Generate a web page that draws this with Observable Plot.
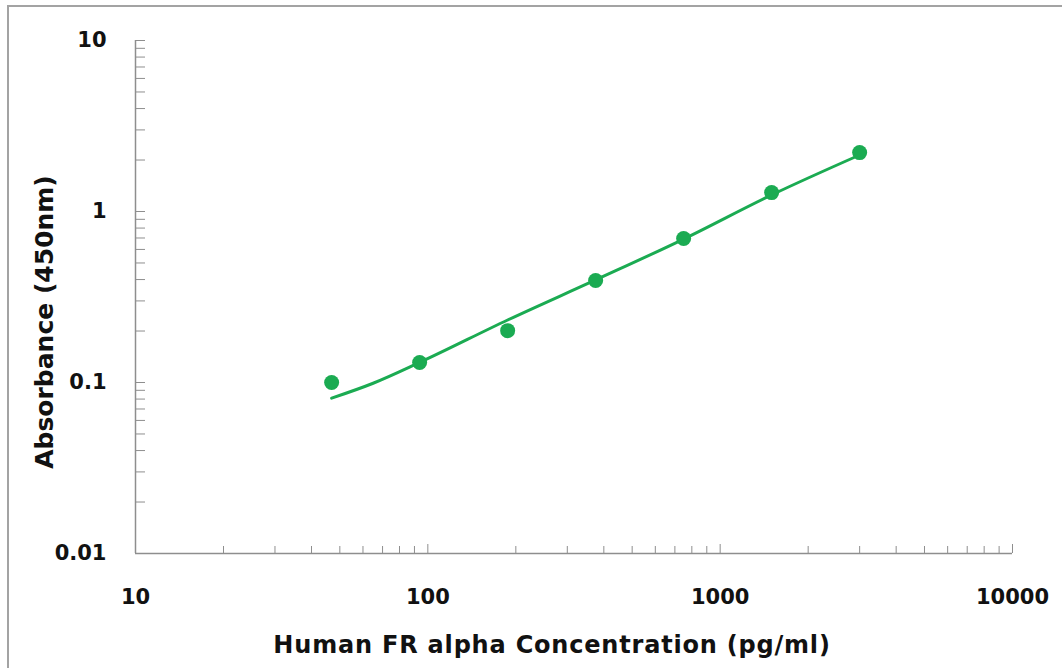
<!DOCTYPE html>
<html><head><meta charset="utf-8">
<script src="https://cdn.jsdelivr.net/npm/d3@7"></script>
<script src="https://cdn.jsdelivr.net/npm/@observablehq/plot@0.6"></script>
<style>
html,body{margin:0;padding:0;background:#fff;}
#wrap{position:relative;width:1062px;height:668px;overflow:hidden;}
#border{position:absolute;left:7px;top:5px;width:1100px;height:700px;border-left:2px solid #a3a3a3;border-top:2px solid #a3a3a3;pointer-events:none;}
</style></head><body>
<div id="wrap"><div id="chart"></div><div id="border"></div></div>
<script>
// Standards (measured points)
const concentration = [46.875, 93.75, 187.5, 375, 750, 1500, 3000];
const absorbance = [0.100, 0.131, 0.201, 0.395, 0.695, 1.29, 2.21];
// Fitted curve
const fitConcentration = [46.875, 65, 93.75, 187.5, 375, 750, 1500, 3000];
const fitAbsorbance = [0.081, 0.099, 0.131, 0.232, 0.398, 0.69, 1.25, 2.14];
// Axes
const xMajorTicks = [10, 100, 1000, 10000];
const xTickLabels = ["10", "100", "1000", "10000"];
const xMinorTicks = [20, 30, 40, 50, 60, 70, 80, 90, 200, 300, 400, 500, 600, 700, 800, 900, 2000, 3000, 4000, 5000, 6000, 7000, 8000, 9000];
const yMajorTicks = [0.01, 0.1, 1, 10];
const yTickLabels = ["0.01", "0.1", "1", "10"];
const yMinorTicks = [0.02, 0.03, 0.04, 0.05, 0.06, 0.07, 0.08, 0.09, 0.2, 0.3, 0.4, 0.5, 0.6, 0.7, 0.8, 0.9, 2, 3, 4, 5, 6, 7, 8, 9];
const xTitle = "Human FR alpha Concentration (pg/ml)";
const yTitle = "Absorbance (450nm)";

const points = concentration.map((c, i) => ({c, a: absorbance[i]}));
const fit = fitConcentration.map((c, i) => ({c, a: fitAbsorbance[i]}));

const green = "#1bab52";
const axisGray = "#8e8e8e";
const font = "DejaVu Sans";

const chart = Plot.plot({
  width: 1062,
  height: 668,
  marginLeft: 135,
  marginRight: 50,
  marginTop: 40,
  marginBottom: 115,
  style: {background: "#fff", fontFamily: font},
  x: {type: "log", domain: [10, 10000], axis: null},
  y: {type: "log", domain: [0.01, 10], axis: null},
  marks: [
    // axis lines
    Plot.ruleX([10], {stroke: axisGray, strokeWidth: 1.5}),
    Plot.ruleY([0.01], {stroke: axisGray, strokeWidth: 1.5}),
    // inward ticks
    Plot.axisX({ticks: xMinorTicks, tickSize: 7, dy: -7, text: null, label: null, stroke: axisGray}),
    Plot.axisX({ticks: xMajorTicks.slice(1), tickSize: 9, dy: -9, text: null, label: null, stroke: axisGray}),
    Plot.axisY({ticks: yMinorTicks.concat(yMajorTicks.slice(1)), tickSize: 10, dx: 10, text: null, label: null, stroke: axisGray}),
    // tick labels
    Plot.axisX({ticks: xMajorTicks, tickSize: 0, tickPadding: 36, tickFormat: (d) => xTickLabels[xMajorTicks.indexOf(d)],
      fontSize: 21, fontWeight: "bold", fontFamily: font, fill: "#111", label: null}),
    Plot.axisY({ticks: yMajorTicks, tickSize: 0, tickPadding: 29, tickFormat: (d) => yTickLabels[yMajorTicks.indexOf(d)],
      fontSize: 21, fontWeight: "bold", fontFamily: font, fill: "#111", label: null}),
    // titles
    Plot.text([xTitle], {text: d => d, frameAnchor: "bottom", textAnchor: "middle", lineAnchor: "bottom", dx: -22, dy: 99,
      fontSize: 24, fontWeight: "bold", fontFamily: font, fill: "#111"}),
    Plot.text([yTitle], {text: d => d, frameAnchor: "left", textAnchor: "middle", lineAnchor: "bottom", rotate: -90, dx: -83, dy: 25,
      fontSize: 25, fontWeight: "bold", fontFamily: font, fill: "#111"}),
    // data
    Plot.line(fit, {x: "c", y: "a", stroke: green, strokeWidth: 3, curve: "monotone-x"}),
    Plot.dot(points, {x: "c", y: "a", r: 7.5, fill: green, stroke: "none"})
  ]
});
document.getElementById("chart").appendChild(chart);
d3.select(chart).selectAll("text").filter(function(){ return this.textContent === xTitle; }).attr("letter-spacing", "0.8px");
</script>
</body></html>
